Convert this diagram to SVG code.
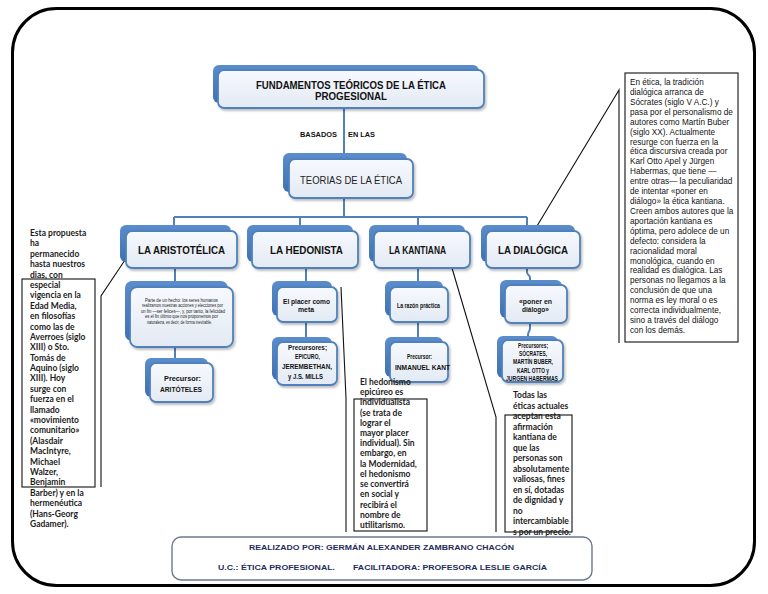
<svg xmlns="http://www.w3.org/2000/svg" width="768" height="594" viewBox="0 0 768 594">
<defs>
<linearGradient id="gFront" x1="0" y1="0" x2="0" y2="1">
<stop offset="0" stop-color="#f7f9fd"/>
<stop offset="1" stop-color="#e3eaf4"/>
</linearGradient>
<linearGradient id="gBack" x1="0" y1="0" x2="0" y2="1">
<stop offset="0" stop-color="#5b8ccb"/>
<stop offset="1" stop-color="#3f72b3"/>
</linearGradient>
<filter id="sh" x="-20%" y="-20%" width="140%" height="150%">
<feDropShadow dx="1.5" dy="2" stdDeviation="1.2" flood-color="#000" flood-opacity="0.25"/>
</filter>
</defs>
<style>
.bk{fill:url(#gBack);}
.fr{fill:url(#gFront);stroke:#4f81bd;stroke-width:1.8;filter:url(#sh);}
.con{fill:none;stroke:#4f81bd;stroke-width:2;}
.lead{fill:none;stroke:#111;stroke-width:1.1;}
.cbox{fill:none;stroke:#111;stroke-width:1.1;}
.lbl{font-family:"Liberation Sans",Arial,sans-serif;font-weight:700;fill:#111;text-anchor:middle;}
.lbn{font-family:"Liberation Sans",Arial,sans-serif;font-weight:400;fill:#222;text-anchor:middle;}
.note{font-family:Lato,"Liberation Sans",sans-serif;font-weight:700;font-size:8.5px;fill:#1c1c1c;}
.rnote{font-family:"Liberation Sans",Arial,sans-serif;font-size:8.2px;fill:#111;}
.foot{font-family:"Liberation Sans",Arial,sans-serif;font-weight:700;font-size:7.5px;fill:#1f2d5c;}
</style>

<rect x="12.5" y="8.5" width="742" height="577" rx="44" fill="#fff" stroke="#000" stroke-width="3"/>

<g id="connectors">
<path class="con" d="M344,108 V153"/>
<path class="con" d="M344,198 V217"/>
<path class="con" d="M174,217 H527"/>
<path class="con" d="M174,217 V225 M300,217 V225 M418,217 V225 M527,217 V225"/>
<path class="con" d="M175,268 V281 M175,347 V358"/>
<path class="con" d="M306,268 V281 M306,322 V337"/>
<path class="con" d="M418,268 V281 M418,322 V337"/>
<path class="con" d="M527,268 V272 C527,276 530,274 530,278 V280"/>
<path class="con" d="M530,323 V328 C530,332 528,331 528,335 V336"/>
<path class="lead" d="M125,260 L101,296 V487"/>
<path class="lead" d="M341,287 L346,398 V532"/>
<path class="lead" d="M452,268 L496,417 V532"/>
<path class="lead" d="M537,226 L619,90 V343"/>
</g>

<g id="n-title">
<rect class="bk" x="213" y="65" width="266" height="38" rx="6"/>
<rect class="fr" x="218" y="70" width="266" height="38" rx="6"/>
<text class="lbl" x="351" y="88.5" font-size="10.5" textLength="190" lengthAdjust="spacingAndGlyphs">FUNDAMENTOS TEÓRICOS DE LA ÉTICA</text>
<text class="lbl" x="351" y="99.5" font-size="10.5" textLength="72" lengthAdjust="spacingAndGlyphs">PROGESIONAL</text>
</g>

<g id="edge-label">
<text class="lbl" x="318.5" y="137" font-size="6.5" textLength="37" lengthAdjust="spacingAndGlyphs">BASADOS</text>
<text class="lbl" x="361.5" y="137" font-size="6.5" textLength="27" lengthAdjust="spacingAndGlyphs">EN LAS</text>
</g>

<g id="n-teorias">
<rect class="bk" x="283" y="153" width="124" height="39" rx="6"/>
<rect class="fr" x="289" y="159" width="124" height="39" rx="6"/>
<text class="lbn" x="351" y="183.5" font-size="11" textLength="102" lengthAdjust="spacingAndGlyphs">TEORIAS DE LA ÉTICA</text>
</g>

<g id="n-aristotelica">
<rect class="bk" x="120" y="225" width="111" height="37" rx="6"/>
<rect class="fr" x="126" y="231" width="111" height="37" rx="6"/>
<text class="lbl" x="181.5" y="254" font-size="11" textLength="87" lengthAdjust="spacingAndGlyphs">LA ARISTOTÉLICA</text>
</g>

<g id="n-hedonista">
<rect class="bk" x="247" y="225" width="106" height="37" rx="6"/>
<rect class="fr" x="252" y="231" width="106" height="37" rx="6"/>
<text class="lbl" x="306.5" y="254" font-size="11" textLength="73" lengthAdjust="spacingAndGlyphs">LA HEDONISTA</text>
</g>

<g id="n-kantiana">
<rect class="bk" x="369" y="225" width="96" height="37" rx="6"/>
<rect class="fr" x="374" y="231" width="96" height="37" rx="6"/>
<text class="lbl" x="417.5" y="254" font-size="11" textLength="57" lengthAdjust="spacingAndGlyphs">LA KANTIANA</text>
</g>

<g id="n-dialogica">
<rect class="bk" x="481" y="225" width="94" height="37" rx="6"/>
<rect class="fr" x="486" y="231" width="94" height="37" rx="6"/>
<text class="lbl" x="533" y="254" font-size="11" textLength="70" lengthAdjust="spacingAndGlyphs">LA DIALÓGICA</text>
</g>

<g id="n-aris-sub">
<rect class="bk" x="125" y="281" width="103" height="60" rx="7"/>
<rect class="fr" x="130" y="287" width="103" height="60" rx="7"/>
<g class="lbn" font-size="4.6" fill="#333">
<text x="181.5" y="301.5" textLength="73" lengthAdjust="spacingAndGlyphs">Parte de un hecho: los seres humanos</text>
<text x="182.5" y="307" textLength="81" lengthAdjust="spacingAndGlyphs">realizamos nuestras acciones y elecciones por</text>
<text x="183" y="312.5" textLength="84" lengthAdjust="spacingAndGlyphs">un fin —ser felices—, y, por tanto, la felicidad</text>
<text x="181.5" y="318" textLength="73" lengthAdjust="spacingAndGlyphs">es el fin último que nos proponemos por</text>
<text x="179.5" y="323.5" textLength="65" lengthAdjust="spacingAndGlyphs">naturaleza, es decir, de forma inevitable.</text>
</g>
</g>

<g id="n-aris-prec">
<rect class="bk" x="145" y="358" width="63" height="39" rx="6"/>
<rect class="fr" x="150" y="363" width="63" height="39" rx="6"/>
<text class="lbl" x="182.5" y="381" font-size="8" textLength="37" lengthAdjust="spacingAndGlyphs">Precursor:</text>
<text class="lbl" x="181" y="391.5" font-size="8" textLength="42" lengthAdjust="spacingAndGlyphs">ARITÓTELES</text>
</g>

<g id="n-hedo-sub">
<rect class="bk" x="272" y="281" width="60" height="35" rx="6"/>
<rect class="fr" x="277" y="287" width="60" height="35" rx="6"/>
<text class="lbl" x="306.5" y="304" font-size="7.5" textLength="47" lengthAdjust="spacingAndGlyphs">El placer como</text>
<text class="lbl" x="306" y="311.5" font-size="7.5" textLength="16" lengthAdjust="spacingAndGlyphs">meta</text>
</g>

<g id="n-hedo-prec">
<rect class="bk" x="272" y="337" width="60" height="43" rx="6"/>
<rect class="fr" x="277" y="342" width="60" height="43" rx="6"/>
<text class="lbl" x="307.5" y="349.5" font-size="7" textLength="39" lengthAdjust="spacingAndGlyphs">Precursores;</text>
<text class="lbl" x="307.5" y="358.5" font-size="7" textLength="25" lengthAdjust="spacingAndGlyphs">EPICURO,</text>
<text class="lbl" x="307" y="368.5" font-size="7" textLength="50" lengthAdjust="spacingAndGlyphs">JEREMBETHAN,</text>
<text class="lbl" x="305.5" y="378.5" font-size="7" textLength="35" lengthAdjust="spacingAndGlyphs">y J.S. MILLS</text>
</g>

<g id="n-kant-sub">
<rect class="bk" x="385" y="281" width="58" height="35" rx="6"/>
<rect class="fr" x="390" y="287" width="58" height="35" rx="6"/>
<text class="lbl" x="418.5" y="308" font-size="7.5" textLength="43" lengthAdjust="spacingAndGlyphs">La razón práctica</text>
</g>

<g id="n-kant-prec">
<rect class="bk" x="385" y="337" width="58" height="40" rx="6"/>
<rect class="fr" x="390" y="342" width="58" height="40" rx="6"/>
<text class="lbl" x="419.5" y="358.5" font-size="7.5" textLength="25" lengthAdjust="spacingAndGlyphs">Precursor:</text>
<text class="lbl" x="422.5" y="369.5" font-size="7.5" textLength="55" lengthAdjust="spacingAndGlyphs">INMANUEL KANT</text>
</g>

<g id="n-dial-sub">
<rect class="bk" x="500" y="280" width="62" height="38" rx="6"/>
<rect class="fr" x="505" y="285" width="62" height="38" rx="6"/>
<text class="lbl" x="535.5" y="304" font-size="7.5" textLength="33" lengthAdjust="spacingAndGlyphs">«poner en</text>
<text class="lbl" x="535.5" y="311.5" font-size="7.5" textLength="27" lengthAdjust="spacingAndGlyphs">diálogo»</text>
</g>

<g id="n-dial-prec">
<rect class="bk" x="497" y="336" width="61" height="42" rx="6"/>
<rect class="fr" x="502" y="340" width="61" height="42" rx="6"/>
<text class="lbl" x="533" y="347.5" font-size="6.8" textLength="30" lengthAdjust="spacingAndGlyphs">Precursores;</text>
<text class="lbl" x="533" y="355.5" font-size="6.8" textLength="28" lengthAdjust="spacingAndGlyphs">SÓCRATES,</text>
<text class="lbl" x="533" y="364" font-size="6.8" textLength="40" lengthAdjust="spacingAndGlyphs">MARTÍN BUBER,</text>
<text class="lbl" x="533" y="372.5" font-size="6.8" textLength="32" lengthAdjust="spacingAndGlyphs">KARL OTTO y</text>
<text class="lbl" x="532" y="381" font-size="6.8" textLength="52" lengthAdjust="spacingAndGlyphs">JURGEN HABERMAS</text>
</g>

<g id="note-aristotelica">
<rect class="cbox" x="22" y="279" width="73" height="208"/>
<text class="note" x="30" y="236">
<tspan x="30" dy="0">Esta propuesta</tspan>
<tspan x="30" dy="10.39">ha</tspan>
<tspan x="30" dy="10.39">permanecido</tspan>
<tspan x="30" dy="10.39">hasta nuestros</tspan>
<tspan x="30" dy="10.39">dias, con</tspan>
<tspan x="30" dy="10.39">especial</tspan>
<tspan x="30" dy="10.39">vigencia en la</tspan>
<tspan x="30" dy="10.39">Edad Media,</tspan>
<tspan x="30" dy="10.39">en filosofías</tspan>
<tspan x="30" dy="10.39">como las de</tspan>
<tspan x="30" dy="10.39">Averroes (siglo</tspan>
<tspan x="30" dy="10.39">XIII) o Sto.</tspan>
<tspan x="30" dy="10.39">Tomás de</tspan>
<tspan x="30" dy="10.39">Aquino (siglo</tspan>
<tspan x="30" dy="10.39">XIII). Hoy</tspan>
<tspan x="30" dy="10.39">surge con</tspan>
<tspan x="30" dy="10.39">fuerza en el</tspan>
<tspan x="30" dy="10.39">llamado</tspan>
<tspan x="30" dy="10.39">«movimiento</tspan>
<tspan x="30" dy="10.39">comunitario»</tspan>
<tspan x="30" dy="10.39">(Alasdair</tspan>
<tspan x="30" dy="10.39">MacIntyre,</tspan>
<tspan x="30" dy="10.39">Michael</tspan>
<tspan x="30" dy="10.39">Walzer,</tspan>
<tspan x="30" dy="10.39">Benjamin</tspan>
<tspan x="30" dy="10.39">Barber) y en la</tspan>
<tspan x="30" dy="10.39">hermenéutica</tspan>
<tspan x="30" dy="10.39">(Hans-Georg</tspan>
<tspan x="30" dy="10.39">Gadamer).</tspan>
</text>
</g>

<g id="note-hedonista">
<rect class="cbox" x="354" y="399" width="73" height="132"/>
<text class="note" x="360" y="385">
<tspan x="360" dy="0">El hedonismo</tspan>
<tspan x="360" dy="10.21">epicúreo es</tspan>
<tspan x="360" dy="10.21">individualista</tspan>
<tspan x="360" dy="10.21">(se trata de</tspan>
<tspan x="360" dy="10.21">lograr el</tspan>
<tspan x="360" dy="10.21">mayor placer</tspan>
<tspan x="360" dy="10.21">individual). Sin</tspan>
<tspan x="360" dy="10.21">embargo, en</tspan>
<tspan x="360" dy="10.21">la Modernidad,</tspan>
<tspan x="360" dy="10.21">el hedonismo</tspan>
<tspan x="360" dy="10.21">se convertirá</tspan>
<tspan x="360" dy="10.21">en social y</tspan>
<tspan x="360" dy="10.21">recibirá el</tspan>
<tspan x="360" dy="10.21">nombre de</tspan>
<tspan x="360" dy="10.21">utilitarismo.</tspan>
</text>
</g>

<g id="note-kantiana">
<rect class="cbox" x="505" y="415" width="67" height="117"/>
<text class="note" x="513" y="398">
<tspan x="513" dy="0">Todas las</tspan>
<tspan x="513" dy="10.5">éticas actuales</tspan>
<tspan x="513" dy="10.5">aceptan esta</tspan>
<tspan x="513" dy="10.5">afirmación</tspan>
<tspan x="513" dy="10.5">kantiana de</tspan>
<tspan x="513" dy="10.5">que las</tspan>
<tspan x="513" dy="10.5">personas son</tspan>
<tspan x="513" dy="10.5">absolutamente</tspan>
<tspan x="513" dy="10.5">valiosas, fines</tspan>
<tspan x="513" dy="10.5">en sí, dotadas</tspan>
<tspan x="513" dy="10.5">de dignidad y</tspan>
<tspan x="513" dy="10.5">no</tspan>
<tspan x="513" dy="10.5">intercambiable</tspan>
<tspan x="513" dy="10.5">s por un precio.</tspan>
</text>
</g>

<g id="note-dialogica">
<rect class="cbox" x="625" y="73" width="113" height="269"/>
<text class="rnote" x="630" y="85">
<tspan x="630" dy="0">En ética, la tradición</tspan>
<tspan x="630" dy="9.92">dialógica arranca de</tspan>
<tspan x="630" dy="9.92">Sócrates (siglo V A.C.) y</tspan>
<tspan x="630" dy="9.92">pasa por el personalismo de</tspan>
<tspan x="630" dy="9.92">autores como Martín Buber</tspan>
<tspan x="630" dy="9.92">(siglo XX). Actualmente</tspan>
<tspan x="630" dy="9.92">resurge con fuerza en la</tspan>
<tspan x="630" dy="9.92">ética discursiva creada por</tspan>
<tspan x="630" dy="9.92">Karl Otto Apel y Jürgen</tspan>
<tspan x="630" dy="9.92">Habermas, que tiene —</tspan>
<tspan x="630" dy="9.92">entre otras— la peculiaridad</tspan>
<tspan x="630" dy="9.92">de intentar «poner en</tspan>
<tspan x="630" dy="9.92">diálogo» la ética kantiana.</tspan>
<tspan x="630" dy="9.92">Creen ambos autores que la</tspan>
<tspan x="630" dy="9.92">aportación kantiana es</tspan>
<tspan x="630" dy="9.92">óptima, pero adolece de un</tspan>
<tspan x="630" dy="9.92">defecto: considera la</tspan>
<tspan x="630" dy="9.92">racionalidad moral</tspan>
<tspan x="630" dy="9.92">monológica, cuando en</tspan>
<tspan x="630" dy="9.92">realidad es dialógica. Las</tspan>
<tspan x="630" dy="9.92">personas no llegamos a la</tspan>
<tspan x="630" dy="9.92">conclusión de que una</tspan>
<tspan x="630" dy="9.92">norma es ley moral o es</tspan>
<tspan x="630" dy="9.92">correcta individualmente,</tspan>
<tspan x="630" dy="9.92">sino a través del diálogo</tspan>
<tspan x="630" dy="9.92">con los demás.</tspan>
</text>
</g>

<g id="footer">
<rect x="172" y="537" width="420" height="43" rx="9" fill="#fff" stroke="#6b7890" stroke-width="1.4"/>
<text class="foot" x="249" y="549.5" textLength="265" lengthAdjust="spacingAndGlyphs">REALIZADO POR: GERMÁN ALEXANDER ZAMBRANO CHACÓN</text>
<text class="foot" x="218" y="570" textLength="117" lengthAdjust="spacingAndGlyphs">U.C.: ÉTICA PROFESIONAL.</text>
<text class="foot" x="353" y="570" textLength="194" lengthAdjust="spacingAndGlyphs">FACILITADORA: PROFESORA LESLIE GARCÍA</text>
</g>
</svg>
